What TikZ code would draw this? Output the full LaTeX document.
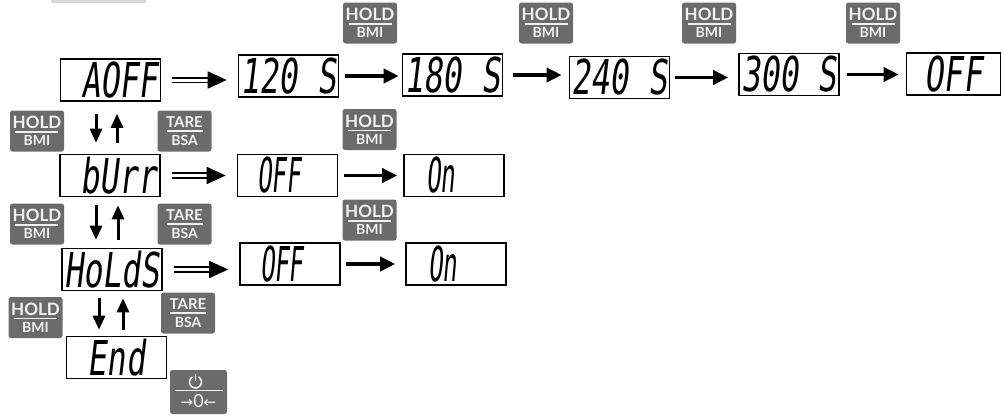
\documentclass[tikz,border=0pt]{standalone}
\usepackage{fontspec}
\usepackage{graphicx}
\usetikzlibrary{arrows.meta}
\newfontfamily\segfont[FakeSlant=0.18]{DejaVu Sans Mono}
\newfontfamily\btnfont{Lato}
\newfontfamily\symfont{DejaVu Sans}
\definecolor{btnfill}{HTML}{6B6B6B}
\definecolor{btntext}{HTML}{F2F2F2}
\definecolor{topbar}{HTML}{D9D9D9}
\newcommand\seg[2][0.66]{{\segfont\fontsize{48}{48}\selectfont\scalebox{#1}[1]{#2}}}
\newcommand\btnlab[5]{\vbox{\hsize=#1pt
  \hbox to #1pt{\hss\btnfont\bfseries\fontsize{#4}{#4}\selectfont #2\hss}\kern2.5pt
  \hrule height1.6pt\kern3pt
  \hbox to #1pt{\hss\btnfont\bfseries\fontsize{#5}{#5}\selectfont #3\hss}}}
\newcommand\hb{\btnlab{43}{HOLD}{BMI}{17}{14}}
\newcommand\tb{\btnlab{36}{TARE}{BSA}{15}{14}}
\newcommand\pwrlab{\vbox{\hsize=48pt
  \hbox to 48pt{\hfil\rule{0pt}{12pt}\hfil}\kern1pt
  \hrule height1.5pt\kern3pt
  \hbox to 48pt{\hss{\symfont\fontsize{15}{15}\selectfont →}{\btnfont\fontsize{18}{18}\selectfont 0}{\symfont\fontsize{15}{15}\selectfont ←}\hss}}}
\tikzset{
  disp/.style={draw, line width=1.6pt, minimum width=100, minimum height=42, inner sep=0pt, fill=white},
  btn/.style={fill=btnfill, rounded corners=2.5pt, minimum width=54, minimum height=41, inner sep=0pt, text=btntext},
  sarr/.style={line width=3.5pt, -{Triangle[length=15pt,width=14pt]}},
  darr/.style={double, double distance=3pt, line width=1.8pt, -{Triangle[length=19pt,width=17pt]}, shorten <=11pt, shorten >=11pt},
  varr/.style={line width=3pt, -{Triangle[length=14pt,width=12pt]}},
  pwrsym/.style={draw=btntext, line width=1.5pt}
}
\begin{document}
\begin{tikzpicture}[x=1pt,y=-1pt]
\useasboundingbox (0,0) rectangle (1004,415);
\fill[topbar] (51,0) rectangle (146,2.5);

% displays
\node[disp] (aoff) at (110.5,80) {\makebox[94pt][r]{\seg{AOFF}}};
\node[disp] (t120) at (288.5,76) {\seg{120 S}};
\node[disp] (t180) at (452.5,75) {\seg{180 S}};
\node[disp] (t240) at (619.5,77.5) {\seg{240 S}};
\node[disp] (t300) at (789,74.5) {\seg{300 S}};
\node[disp, minimum width=94] (toff) at (953.5,74) {\seg{OFF}};
\node[disp] (burr) at (110,175.5) {\makebox[94pt][r]{\seg{bUrr}}};
\node[disp] (off2) at (287.5,175.5) {\makebox[94pt][l]{\hspace{17pt}\seg[0.5]{OFF}}};
\node[disp] (on2) at (454,175.5) {\makebox[94pt][l]{\hspace{19pt}\seg[0.5]{On}}};
\node[disp] (holds) at (112,269.5) {\seg{HoLdS}};
\node[disp] (off3) at (290,264) {\makebox[94pt][l]{\hspace{17pt}\seg[0.5]{OFF}}};
\node[disp] (on3) at (456,264) {\makebox[94pt][l]{\hspace{19pt}\seg[0.5]{On}}};
\node[disp] (endd) at (116.5,357.5) {\seg{End}};

% buttons
\node[btn] (h1) at (370,23) {\hb};
\node[btn] (h2) at (546,23) {\hb};
\node[btn] (h3) at (709,23) {\hb};
\node[btn] (h4) at (873,23) {\hb};
\node[btn] (h5) at (369.5,129.5) {\hb};
\node[btn] (h6) at (369.5,220) {\hb};
\node[btn] (l1) at (37,131) {\hb};
\node[btn] (l2) at (37,224) {\hb};
\node[btn] (l3) at (35.5,317.5) {\hb};
\node[btn] (r1) at (184.5,131) {\tb};
\node[btn] (r2) at (184.5,224) {\tb};
\node[btn] (r3) at (188,313) {\tb};
\node[btn, minimum width=57, minimum height=44] (pwr) at (198.5,392) {\pwrlab};
\draw[pwrsym] ([shift={(-3,-10)}]pwr.center) ++(-60:6) arc[start angle=-60, end angle=240, radius=6];
\draw[pwrsym] ([shift={(-3,-10)}]pwr.center) ++(0,-8.5) -- ++(0,7);

% double arrows
\draw[darr] (aoff.east) -- (aoff.east -| t120.west);
\draw[darr] (burr.east) -- (burr.east -| off2.west);
\draw[darr] (holds.east) -- (holds.east -| off3.west);

% single arrows
\draw[sarr, shorten <=6pt, shorten >=3pt] (t120.east) -- (t120.east -| t180.west);
\draw[sarr, shorten <=10pt, shorten >=7pt] (t180.east) -- (t180.east -| t240.west);
\draw[sarr, shorten <=5pt, shorten >=10pt] (t240.east) -- (t240.east -| t300.west);
\draw[sarr, shorten <=7pt, shorten >=7pt] (t300.east) -- (t300.east -| toff.west);
\draw[sarr, shorten <=6pt, shorten >=6pt] (off2.east) -- (off2.east -| on2.west);
\draw[sarr, shorten <=5pt, shorten >=10pt] (off3.east) -- (off3.east -| on3.west);

% vertical arrows
\coordinate (c1) at (96,0);
\coordinate (c2) at (117,0);
\coordinate (c3) at (96,0);
\coordinate (c4) at (118,0);
\coordinate (c5) at (99,0);
\coordinate (c6) at (123,0);
\draw[varr, shorten <=12pt, shorten >=11pt] (aoff.south -| c1) -- (burr.north -| c1);
\draw[varr, shorten <=11pt, shorten >=12pt] (burr.north -| c2) -- (aoff.south -| c2);
\draw[varr, shorten <=8pt, shorten >=8pt] (burr.south -| c3) -- (holds.north -| c3);
\draw[varr, shorten <=8pt, shorten >=8pt] (holds.north -| c4) -- (burr.south -| c4);
\draw[varr, shorten <=7pt, shorten >=6pt] (holds.south -| c5) -- (endd.north -| c5);
\draw[varr, shorten <=6pt, shorten >=7pt] (endd.north -| c6) -- (holds.south -| c6);
\end{tikzpicture}
\end{document}
